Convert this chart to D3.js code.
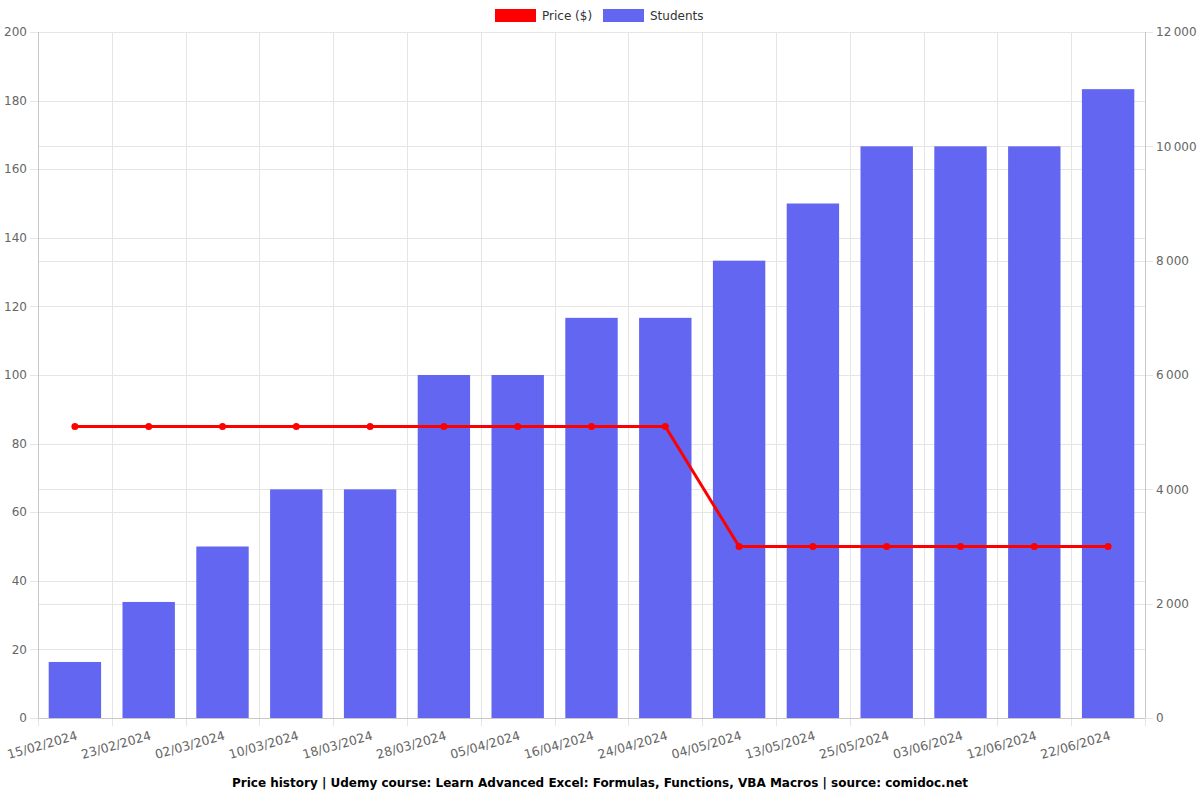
<!DOCTYPE html>
<html>
<head>
<meta charset="utf-8">
<script src="https://cdn.jsdelivr.net/npm/d3@7/dist/d3.min.js"></script>
<style>
  body { margin: 0; background: #fff; }
  svg text { font-family: "DejaVu Sans", sans-serif; }
</style>
</head>
<body>
<svg id="chart" width="1200" height="800"></svg>
<script>
(function(){

  // DATA //////////////////////////////////////////////////////////////////

  var dates = ["15/02/2024", "23/02/2024", "02/03/2024", "10/03/2024", "18/03/2024",
               "28/03/2024", "05/04/2024", "16/04/2024", "24/04/2024", "04/05/2024",
               "13/05/2024", "25/05/2024", "03/06/2024", "12/06/2024", "22/06/2024"];
  var students = [980, 2030, 3000, 4000, 4000, 6000, 6000, 7000, 7000, 8000, 9000, 10000, 10000, 10000, 11000];
  var prices = [84.99, 84.99, 84.99, 84.99, 84.99, 84.99, 84.99, 84.99, 84.99, 49.99, 49.99, 49.99, 49.99, 49.99, 49.99];
  var priceTicks = [0, 20, 40, 60, 80, 100, 120, 140, 160, 180, 200];
  var studentTicks = [0, 2000, 4000, 6000, 8000, 10000, 12000];

  var title = "Price history | Udemy course: Learn Advanced Excel: Formulas, Functions, VBA Macros | source: comidoc.net";

  // LAYOUT ////////////////////////////////////////////////////////////////

  var left = 38, right = 1145, top = 32, bottom = 718;
  var gridColor = "#e5e5e5";
  var axisColor = "#c8c8c8";
  var textColor = "#666666";
  var barColor = "#6366f1";
  var lineColor = "#ff0000";

  var svg = d3.select("#chart");

  var x = d3.scaleBand().domain(dates).range([left, right]);
  var yPrice = d3.scaleLinear().domain([0, 200]).range([bottom, top]);
  var yStudents = d3.scaleLinear().domain([0, 12000]).range([bottom, top]);

  var fmt = function(v){ return d3.format(",")(v).replace(/,/g, "\u202f"); };

  // GRID //////////////////////////////////////////////////////////////////

  var grid = svg.append("g");

  grid.selectAll("line.gp").data(priceTicks).enter().append("line")
    .attr("x1", left - 8).attr("x2", right)
    .attr("y1", function(d){ return Math.round(yPrice(d)) + 0.5; })
    .attr("y2", function(d){ return Math.round(yPrice(d)) + 0.5; })
    .attr("stroke", gridColor);

  grid.selectAll("line.gs").data(studentTicks).enter().append("line")
    .attr("x1", left).attr("x2", right + 8)
    .attr("y1", function(d){ return Math.round(yStudents(d)) + 0.5; })
    .attr("y2", function(d){ return Math.round(yStudents(d)) + 0.5; })
    .attr("stroke", gridColor);

  var boundaries = d3.range(dates.length + 1);
  grid.selectAll("line.gx").data(boundaries).enter().append("line")
    .attr("x1", function(i){ return Math.round(left + i * x.step()) + 0.5; })
    .attr("x2", function(i){ return Math.round(left + i * x.step()) + 0.5; })
    .attr("y1", top).attr("y2", bottom + 8)
    .attr("stroke", gridColor);

  // axis lines
  svg.append("line").attr("x1", left + 0.5).attr("x2", left + 0.5)
    .attr("y1", top).attr("y2", bottom).attr("stroke", axisColor);
  svg.append("line").attr("x1", right + 0.5).attr("x2", right + 0.5)
    .attr("y1", top).attr("y2", bottom).attr("stroke", axisColor);
  svg.append("line").attr("x1", left).attr("x2", right)
    .attr("y1", bottom + 0.5).attr("y2", bottom + 0.5).attr("stroke", axisColor);

  // BARS //////////////////////////////////////////////////////////////////

  var barW = x.step() * 0.71;
  svg.append("g").selectAll("rect").data(students).enter().append("rect")
    .attr("x", function(d, i){ return x(dates[i]) + (x.step() - barW) / 2; })
    .attr("y", function(d){ return yStudents(d); })
    .attr("width", barW)
    .attr("height", function(d){ return bottom - yStudents(d); })
    .attr("fill", barColor);

  // LINE //////////////////////////////////////////////////////////////////

  var line = d3.line()
    .x(function(d, i){ return x(dates[i]) + x.step() / 2; })
    .y(function(d){ return yPrice(d); });

  svg.append("path").datum(prices)
    .attr("d", line)
    .attr("fill", "none")
    .attr("stroke", lineColor)
    .attr("stroke-width", 3);

  svg.append("g").selectAll("circle").data(prices).enter().append("circle")
    .attr("cx", function(d, i){ return x(dates[i]) + x.step() / 2; })
    .attr("cy", function(d){ return yPrice(d); })
    .attr("r", 3.5)
    .attr("fill", lineColor);

  // AXIS LABELS ///////////////////////////////////////////////////////////

  svg.append("g").selectAll("text").data(priceTicks).enter().append("text")
    .attr("x", left - 11)
    .attr("y", function(d){ return yPrice(d); })
    .attr("dy", "0.35em")
    .attr("text-anchor", "end")
    .attr("font-size", 12)
    .attr("fill", textColor)
    .text(function(d){ return d; });

  svg.append("g").selectAll("text").data(studentTicks).enter().append("text")
    .attr("x", right + 11)
    .attr("y", function(d){ return yStudents(d); })
    .attr("dy", "0.35em")
    .attr("text-anchor", "start")
    .attr("font-size", 12)
    .attr("fill", textColor)
    .text(fmt);

  svg.append("g").selectAll("text").data(dates).enter().append("text")
    .attr("transform", function(d){
      return "translate(" + (x(d) + x.step() / 2 + 2) + "," + (bottom + 17) + ") rotate(-16)";
    })
    .attr("dy", "0.35em")
    .attr("text-anchor", "end")
    .attr("font-size", 12.5)
    .attr("fill", textColor)
    .text(function(d){ return d; });

  // LEGEND ////////////////////////////////////////////////////////////////

  var legend = [
    { label: "Price ($)", color: lineColor, x: 495 },
    { label: "Students", color: barColor, x: 603 }
  ];
  var lg = svg.append("g").selectAll("g").data(legend).enter().append("g");
  lg.append("rect")
    .attr("x", function(d){ return d.x; }).attr("y", 9)
    .attr("width", 41).attr("height", 13)
    .attr("fill", function(d){ return d.color; });
  lg.append("text")
    .attr("x", function(d){ return d.x + 47; }).attr("y", 16)
    .attr("dy", "0.35em")
    .attr("font-size", 12)
    .attr("fill", "#333")
    .text(function(d){ return d.label; });

  // TITLE /////////////////////////////////////////////////////////////////

  svg.append("text")
    .attr("x", 600).attr("y", 783)
    .attr("dy", "0.35em")
    .attr("text-anchor", "middle")
    .attr("font-size", 12)
    .attr("font-weight", "bold")
    .attr("fill", "#000")
    .text(title);

})();
</script>
</body>
</html>
